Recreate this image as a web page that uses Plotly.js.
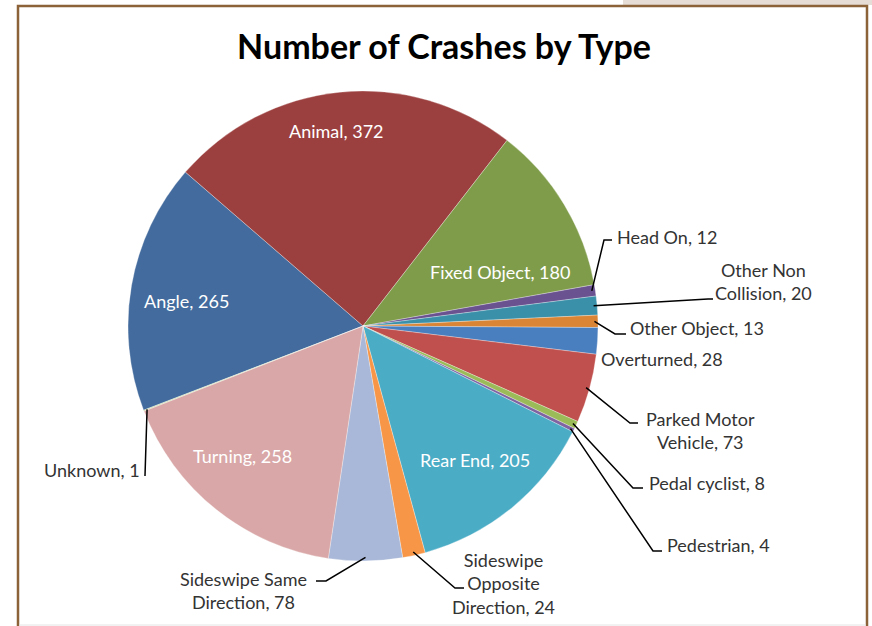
<!DOCTYPE html>
<html>
<head>
<meta charset="utf-8">
<script src="https://cdn.plot.ly/plotly-3.0.1.min.js"></script>
<style>html,body{margin:0;padding:0;background:#fff;}#chart{width:872px;height:626px;}</style>
</head>
<body>
<div id="chart"></div>
<script>
// ---- data ----
const categories = ['Angle','Animal','Fixed Object','Head On','Other Non Collision','Other Object','Overturned','Parked Motor Vehicle','Pedal cyclist','Pedestrian','Rear End','Sideswipe Opposite Direction','Sideswipe Same Direction','Turning','Unknown'];
const crashes = [265,372,180,12,20,13,28,73,8,4,205,24,78,258,1];
const displayNames = ['Angle','Animal','Fixed Object','Head On','Other Non<br>Collision','Other Object','Overturned','Parked Motor<br>Vehicle','Pedal cyclist','Pedestrian','Rear End','Sideswipe<br>Opposite<br>Direction','Sideswipe Same<br>Direction','Turning','Unknown'];
const sliceColors = ['#436B9D','#9C403F','#7F9C4A','#6A5190','#3A90A8','#D98535','#4A7FBF','#C0504D','#9BBB59','#8064A2','#4BACC6','#F79646','#A9B8D8','#D9A7A7','#C3D69B'];
const chartTitle = 'Number of Crashes by Type';

// ---- layout constants (pixels) ----
const W = 872, H = 626;
const CX = 363, CY = 326, R = 235;
const ROT = 249;
const px = x => x / W;
const py = y => 1 - y / H;

// label placement: text anchor position + leader elbow/end (pixels)
const labelPlace = [
  {x:186, y:301, xa:'center', inside:true},
  {x:336, y:131, xa:'center', inside:true},
  {x:500, y:272, xa:'center', inside:true},
  {x:615, y:237, xa:'left', elbow:[604,240], end:[612,240]},
  {x:763, y:281, xa:'center', elbow:[708,299], end:[713,299]},
  {x:628, y:328, xa:'left', elbow:[615,334], end:[626,334]},
  {x:599, y:359, xa:'left'},
  {x:700, y:430, xa:'center', elbow:[630,423], end:[638,423]},
  {x:647, y:483, xa:'left', elbow:[633,488], end:[643,488]},
  {x:665, y:545, xa:'left', elbow:[653,551], end:[662,551]},
  {x:475, y:460, xa:'center', inside:true},
  {x:503, y:583, xa:'center', elbow:[455,588], end:[464,588]},
  {x:243, y:590, xa:'center', elbow:[326,581], end:[316,581]},
  {x:242, y:456, xa:'center', inside:true},
  {x:142, y:470, xa:'right', elbow:[145,476], end:[145,476]}
];

const total = crashes.reduce((a,b)=>a+b,0);
let cum = 0;
const annotations = [];
const shapes = [];
crashes.forEach((v,i)=>{
  const mid = (ROT + (cum + v/2) / total * 360) * Math.PI / 180;
  cum += v;
  const p = labelPlace[i];
  annotations.push({
    x: px(p.x), y: py(p.y), xref:'paper', yref:'paper',
    xanchor: p.xa, yanchor:'middle', align: p.xa === 'left' ? 'left' : (p.xa === 'right' ? 'right' : 'center'),
    text: displayNames[i] + ', ' + v, showarrow:false,
    font:{family:'Lato, "Open Sans", sans-serif', size:18, color: p.inside ? '#ffffff' : '#333333'}
  });
  if (p.elbow) {
    const sx = CX + R * 0.985 * Math.sin(mid);
    const sy = CY - R * 0.985 * Math.cos(mid);
    shapes.push({
      type:'path', xref:'paper', yref:'paper',
      path: `M ${px(sx)},${py(sy)} L ${px(p.elbow[0])},${py(p.elbow[1])} L ${px(p.end[0])},${py(p.end[1])}`,
      line:{color:'#000000', width:1.5}
    });
  }
});

// frame
shapes.push({type:'rect', xref:'paper', yref:'paper', x0:px(623), x1:px(872), y0:py(0), y1:py(5), fillcolor:'#E6DED6', line:{width:0}, layer:'below'});
shapes.push({type:'path', xref:'paper', yref:'paper',
  path:`M ${px(18)},${py(640)} L ${px(18)},${py(6)} L ${px(867)},${py(6)} L ${px(867)},${py(640)}`,
  line:{color:'#8C6239', width:2.5}});
shapes.push({type:'line', xref:'paper', yref:'paper', x0:px(19), x1:px(866), y0:py(625), y1:py(625), line:{color:'#E4E4E4', width:1}});

const trace = {
  type:'pie',
  labels: categories,
  values: crashes,
  sort:false,
  direction:'clockwise',
  rotation: ROT,
  textinfo:'none',
  hoverinfo:'label+value',
  marker:{colors: sliceColors, line:{color:'rgba(255,255,255,0.5)', width:0.6}},
  domain:{x:[px(CX-R), px(CX+R)], y:[py(CY+R), py(CY-R)]},
  showlegend:false
};

const layout = {
  width:W, height:H,
  margin:{l:0,r:0,t:0,b:0},
  paper_bgcolor:'#ffffff',
  showlegend:false,
  title:{text:chartTitle, x:px(444), xanchor:'center', xref:'paper', y:py(47), yanchor:'middle', yref:'paper',
    font:{family:'Lato, "Open Sans", sans-serif', size:34, color:'#000000', weight:'bold'}},
  annotations: annotations,
  shapes: shapes
};

Plotly.newPlot('chart', [trace], layout, {displayModeBar:false, staticPlot:true});
</script>
</body>
</html>
